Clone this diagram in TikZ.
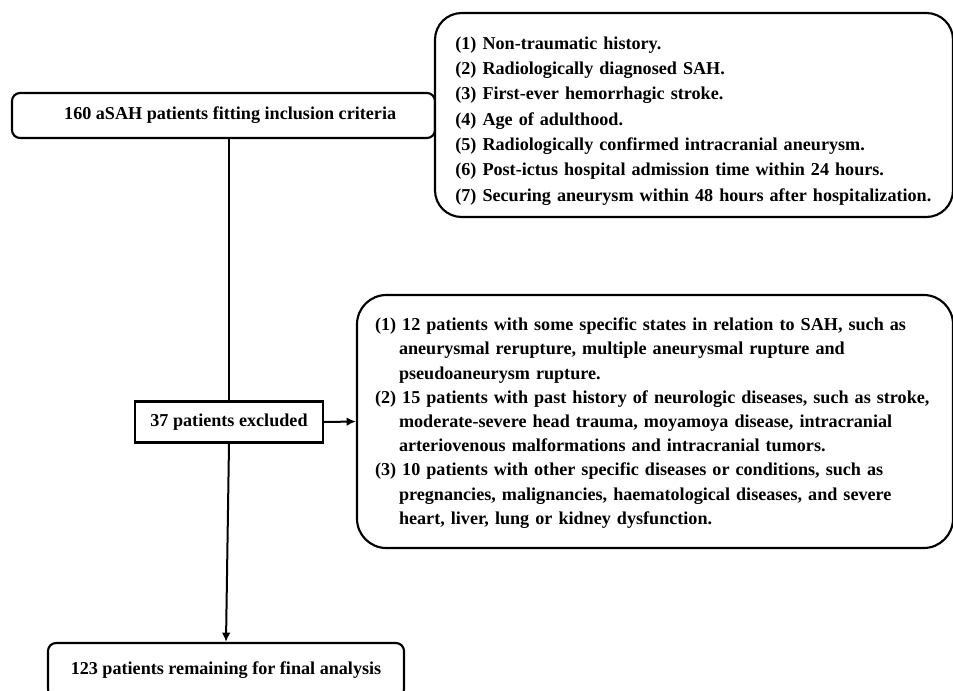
\documentclass[tikz,border=0pt]{standalone}
\usepackage{fontspec}
\setmainfont{Liberation Serif}
\usetikzlibrary{arrows.meta}
\newcommand{\hangin}{\hspace*{18pt}}
\begin{document}
\begin{tikzpicture}[x=0.75pt,y=-0.75pt,
  font=\bfseries\fontsize{13.6}{19}\selectfont,
  flowbox/.style={draw,line width=1.6pt,fill=white,inner sep=0pt},
  softbox/.style={flowbox,rounded corners=6pt},
  listbox/.style={flowbox,rounded corners=20pt,align=left},
  flow/.style={line width=1.5pt,-{Latex[length=7pt,width=6.5pt]}}]
\useasboundingbox (0,0) rectangle (953,690);
\clip (0,0) rectangle (953,690);
\node[softbox,minimum width=317.25pt,minimum height=33.75pt] (incl) at (223.5,115.5) {\hspace*{10pt}160 aSAH patients fitting inclusion criteria};
\node[listbox,text width=358pt,inner xsep=15.25pt,minimum height=153pt] (crit) at (694,115) {%
\rule{0pt}{18pt}(1) Non-traumatic history.\\
(2) Radiologically diagnosed SAH.\\
(3) First-ever hemorrhagic stroke.\\
(4) Age of adulthood.\\
(5) Radiologically confirmed intracranial aneurysm.\\
(6) Post-ictus hospital admission time within 24 hours.\\
(7) Securing aneurysm within 48 hours after hospitalization.};
\node[flowbox,minimum width=141pt,minimum height=30.75pt] (excl) at (229,422) {37 patients excluded};
\node[listbox,rounded corners=22pt,text width=420pt,inner xsep=13.5pt,minimum height=189.75pt,
  font=\bfseries\fontsize{13.6}{18.15}\selectfont] (exbox) at (655,421.5) {%
\rule{0pt}{12pt}(1) 12 patients with some specific states in relation to SAH, such as\\
\hangin aneurysmal rerupture, multiple aneurysmal rupture and\\
\hangin pseudoaneurysm rupture.\\
(2) 15 patients with past history of neurologic diseases, such as stroke,\\
\hangin moderate-severe head trauma, moyamoya disease, intracranial\\
\hangin arteriovenous malformations and intracranial tumors.\\
(3) 10 patients with other specific diseases or conditions, such as\\
\hangin pregnancies, malignancies, haematological diseases, and severe\\
\hangin heart, liver, lung or kidney dysfunction.};
\node[softbox,minimum width=267pt,minimum height=40.5pt] (final) at (226,670) {123 patients remaining for final analysis};
\path[flow,-] (excl.north |- incl.south) edge (excl.north);
\path[flow] (excl.south) edge (final.north);
\path[flow] (excl.east) edge (exbox.west);
\end{tikzpicture}
\end{document}
